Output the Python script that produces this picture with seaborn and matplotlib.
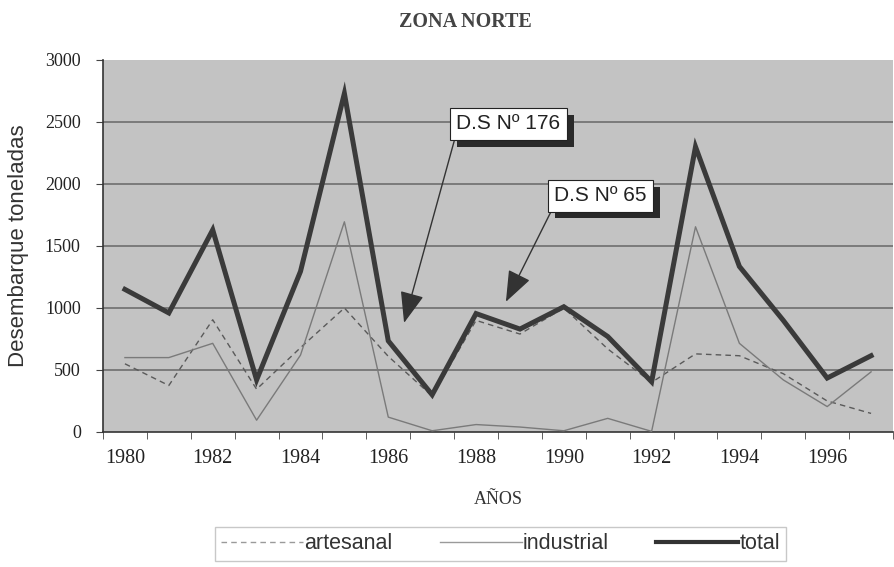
import matplotlib
matplotlib.use("Agg")
import matplotlib.pyplot as plt
import matplotlib.patheffects as pe
from matplotlib.lines import Line2D
import seaborn as sns
import numpy as np
import pandas as pd

years = list(range(1980, 1998))
total = [1150, 960, 1630, 420, 1295, 2730, 735, 300, 955, 830, 1010, 770, 405, 2300, 1335, 900, 435, 615]
industrial = [600, 600, 715, 95, 620, 1695, 120, 10, 60, 40, 10, 110, 5, 1655, 715, 420, 205, 485]
artesanal = [550, 375, 905, 345, 680, 1000, 610, 290, 900, 790, 1000, 670, 400, 630, 615, 470, 250, 150]
tick_labels = [str(y) for y in years[::2]]
yticks = [0, 500, 1000, 1500, 2000, 2500, 3000]

df = pd.DataFrame({"pos": np.arange(len(years)), "total": total,
                   "industrial": industrial, "artesanal": artesanal})

fig = plt.figure(figsize=(8.94, 5.67), dpi=100)
ax = fig.add_axes([0.1152, 0.2381, 0.8837, 0.6561])
ax.set_facecolor("#c3c3c3")

for y in yticks[1:-1]:
    ax.axhline(y, color="#6e6e6e", lw=1.2, zorder=1)

sns.lineplot(data=df, x="pos", y="artesanal", ax=ax, color="#5a5a5a", lw=1.0,
             linestyle=(0, (4, 3)), zorder=3)
sns.lineplot(data=df, x="pos", y="industrial", ax=ax, color="#7a7a7a", lw=1.0, zorder=3)
sns.lineplot(data=df, x="pos", y="total", ax=ax, color="#3a3a3a", lw=3.6, zorder=4,
             solid_joinstyle="miter")

ax.set_xlim(-0.5, len(years) - 0.5)
ax.set_ylim(0, 3000)
ax.set_xticks(np.arange(0, len(years), 2))
ax.set_xticklabels(tick_labels, fontfamily="Liberation Serif", fontsize=14.5, color="#222222")
ax.set_xticks(np.arange(-0.5, len(years), 1), minor=True)
ax.tick_params(axis="x", which="major", length=0, pad=12)
ax.tick_params(axis="x", which="minor", length=5, direction="out", color="#444444")
ax.set_yticks(yticks)
ax.set_yticklabels([str(v) for v in yticks], fontfamily="Liberation Serif", fontsize=13, color="#222222")
ax.tick_params(axis="y", length=5, direction="out", color="#444444", pad=11)

for s in ["top", "right"]:
    ax.spines[s].set_visible(False)
ax.spines["left"].set_color("#333333")
ax.spines["bottom"].set_color("#333333")
ax.spines["left"].set_linewidth(1.2)
ax.spines["bottom"].set_linewidth(1.2)

ax.set_xlabel("AÑOS", fontfamily="Liberation Serif", fontsize=13, color="#333333", labelpad=17)
ax.set_ylabel("Desembarque toneladas", fontfamily="Liberation Sans", fontsize=16,
              color="#333333")
ax.yaxis.set_label_coords(-0.094, 0.5)
fig.text(0.520, 0.962, "ZONA NORTE", ha="center", va="center", fontfamily="Liberation Serif",
         fontweight="bold", fontsize=14.5, color="#444444")

# annotations
def note(text, xy, xytext):
    ann = ax.annotate(text, xy=xy, xytext=xytext, textcoords="data",
                      fontsize=15, fontfamily="Liberation Sans", color="#222222",
                      ha="left", va="center",
                      bbox=dict(boxstyle="square,pad=0.3", fc="white", ec="#222222", lw=0.8),
                      arrowprops=dict(arrowstyle="-|>,head_length=1.3,head_width=0.5",
                                      color="#333333", lw=1.0, shrinkA=0, shrinkB=0,
                                      relpos=(0, 0)),
                      zorder=6)
    ann.get_bbox_patch().set_path_effects([
        pe.withSimplePatchShadow(offset=(5, -5), shadow_rgbFace="#2a2a2a", alpha=1.0)])
    return ann

note("D.S Nº 176", xy=(6.36, 880), xytext=(7.55, 2485))
note("D.S Nº 65", xy=(8.68, 1050), xytext=(9.78, 1905))

handles = [
    Line2D([], [], color="#9a9a9a", lw=1.0, linestyle=(0, (4, 3))),
    Line2D([], [], color="#9a9a9a", lw=1.0),
    Line2D([], [], color="#333333", lw=3.0),
]
leg = fig.legend(handles, ["artesanal", "industrial", "total"], ncol=3,
                 loc="upper center", bbox_to_anchor=(0.560, 0.090), frameon=True,
                 fancybox=False, edgecolor="#bbbbbb", handlelength=3.8,
                 columnspacing=2.2, handletextpad=0.05, borderpad=0.3,
                 prop={"family": "Liberation Sans", "size": 15.5})
for t in leg.get_texts():
    t.set_color("#333333")

fig.savefig("out.png", dpi=100)
